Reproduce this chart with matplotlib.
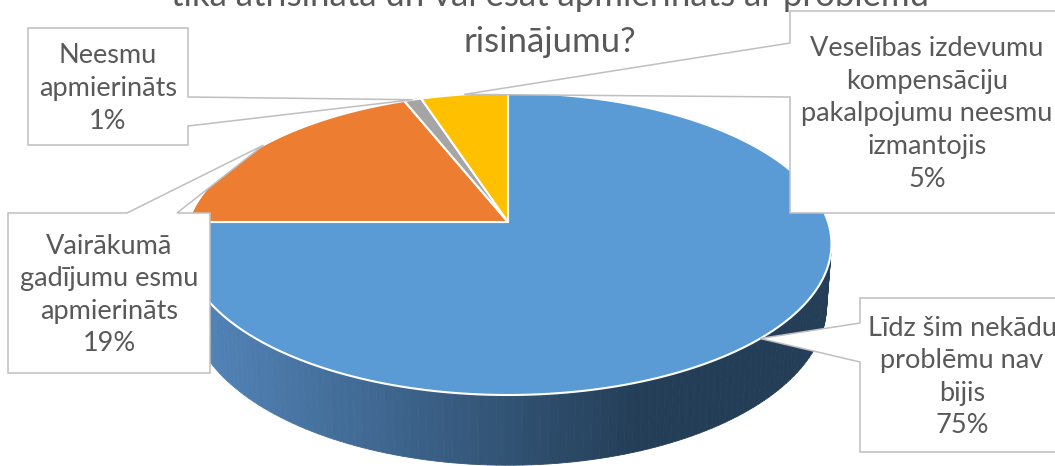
import numpy as np
import matplotlib.pyplot as plt
from matplotlib.patches import Polygon
from matplotlib.collections import PolyCollection
from matplotlib.colors import to_rgb

plt.rcParams['font.family'] = ['Lato', 'DejaVu Sans']

# data
labels = ['Līdz šim nekādu\nproblēmu nav\nbijis',
          'Vairākumā\ngadījumu esmu\napmierināts',
          'Neesmu\napmierināts',
          'Veselības izdevumu\nkompensāciju\npakalpojumu neesmu\nizmantojis']
values = [75, 19, 1, 5]
colors = ['#5B9BD5', '#ED7D31', '#A5A5A5', '#FFC000']
title_lines = ['tika atrisināta un vai esat apmierināts ar problēmu', 'risinājumu?']

# label boxes (x0, x1, y0, y1) and which edge the pointer leaves from
boxes = [(860, 1064, 298, 452, 'left', 323, 362),
         (8, 210, 213, 373, 'top', 127, 177),
         (28, 188, 28, 145, 'right', 97, 126),
         (790, 1064, 11, 213, 'left', 43, 97)]

# pie geometry in pixels (simple perspective)
cx, cy = 508, 222
A, B, k = 320, 147.8, 0.1457
H = 60


def rim(theta, h=0.0, shrink=1.0):
    u = np.sin(theta)
    w = np.cos(theta)
    s = 1.0 / (1.0 + k * w)
    return cx + A * u * s * shrink, cy - B * w * s + h * s


fig = plt.figure(figsize=(10.55, 4.66), dpi=100)
ax = fig.add_axes([0, 0, 1, 1])
ax.set_xlim(0, 1055)
ax.set_ylim(466, 0)
ax.axis('off')

total = sum(values)
bounds = np.concatenate([[0], np.cumsum(values)]) / total * 2 * np.pi

# side walls
c_light = np.array(to_rgb('#5385BA'))
c_dark = np.array(to_rgb('#243E57'))
quads, qcols = [], []
for i in range(len(values)):
    th = np.linspace(bounds[i], bounds[i + 1], 200)
    xt, yt = rim(th)
    xb, yb = rim(th, H, 0.985)
    for j in range(len(th) - 1):
        quads.append([(xt[j], yt[j]), (xt[j + 1], yt[j + 1]),
                      (xb[j + 1], yb[j + 1]), (xb[j], yb[j])])
        f = np.clip((xt[j] - 195) / (640 - 195), 0, 1)
        base = c_light * (1 - f) + c_dark * f
        if i != 0:
            base = np.array(to_rgb(colors[i])) * 0.6
        qcols.append(base)
walls = PolyCollection(quads, facecolors=qcols, edgecolors=qcols, linewidths=0.6, zorder=1)
ax.add_collection(walls)

# top faces
tips = []
for i in range(len(values)):
    th = np.linspace(bounds[i], bounds[i + 1], 200)
    xt, yt = rim(th)
    pts = [(cx, cy)] + list(zip(xt, yt))
    ax.add_patch(Polygon(pts, closed=True, facecolor=colors[i], edgecolor='white',
                         linewidth=1.5, joinstyle='round', zorder=2))
    tips.append(rim((bounds[i] + bounds[i + 1]) / 2))

# callout labels
for i, (x0, x1, y0, y1, side, p0, p1) in enumerate(boxes):
    tx, ty = tips[i]
    if side == 'left':
        pts = [(x0, y0), (x1, y0), (x1, y1), (x0, y1), (x0, p1), (tx, ty), (x0, p0)]
    elif side == 'right':
        pts = [(x0, y0), (x1, y0), (x1, p0), (tx, ty), (x1, p1), (x1, y1), (x0, y1)]
    else:
        pts = [(x0, y0), (p0, y0), (tx, ty), (p1, y0), (x1, y0), (x1, y1), (x0, y1)]
    ax.add_patch(Polygon(pts, closed=True, facecolor='white', edgecolor='#BFBFBF',
                         linewidth=1.1, zorder=5))
    pct = f'{round(values[i] / total * 100)}%'
    ax.text((x0 + x1) / 2, (y0 + y1) / 2 + 2, labels[i] + '\n' + pct,
            ha='center', va='center', fontsize=19.5, color='#595959',
            linespacing=1.38, zorder=6)

# title (top line cut by the figure edge, as in the source)
ax.text(550, 6, title_lines[0], ha='center', va='baseline', fontsize=25, color='#595959')
ax.text(550, 52, title_lines[1], ha='center', va='baseline', fontsize=25, color='#595959')

fig.savefig('out.png', dpi=100)
